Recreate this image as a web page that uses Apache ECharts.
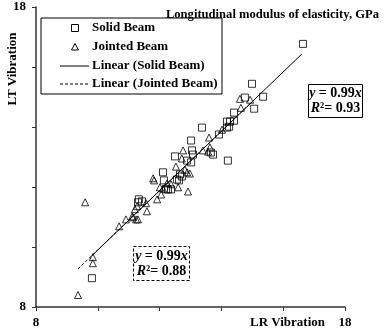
<!DOCTYPE html>
<html>
<head>
<meta charset="utf-8">
<script src="https://cdn.jsdelivr.net/npm/echarts@6/dist/echarts.min.js"></script>
<style>html,body{margin:0;padding:0;background:#fff}#c{width:387px;height:329px}</style>
</head>
<body>
<div id="c"></div>
<script>
// ---- data ----
const solidX = [16.64,14.99,15.35,14.76,15.06,14.41,14.18,14.28,14.41,13.37,14.18,14.25,13.92,13.02,13.66,13.73,13.05,13.08,12.50,12.89,13.02,14.21,12.11,12.66,12.72,12.14,12.56,12.63,12.21,12.27,12.37,11.33,11.43,11.30,9.81];
const solidY = [16.77,15.44,15.01,14.98,14.61,14.48,14.18,14.18,14.21,13.98,13.98,14.01,13.75,13.55,13.15,13.08,13.22,13.08,13.02,12.88,12.82,12.88,12.49,12.42,12.35,12.22,12.25,12.22,11.92,11.92,11.92,11.59,11.52,11.49,8.96];
const jointX = [14.60,14.93,14.63,14.02,13.60,13.40,13.63,13.57,12.76,12.72,12.53,12.82,12.89,12.98,11.79,11.82,12.24,12.37,12.01,12.11,12.60,12.92,12.05,11.92,9.59,11.56,11.27,11.20,11.59,10.91,11.14,11.24,11.30,11.11,10.69,9.84,9.84,9.36];
const jointY = [14.94,14.91,14.64,13.91,13.65,13.22,13.32,13.18,13.22,12.95,12.68,12.58,12.49,12.45,12.29,12.22,12.12,12.09,11.99,11.95,11.99,11.85,11.75,11.59,11.49,11.46,11.36,11.26,11.19,10.92,10.99,10.92,10.92,11.02,10.69,9.66,9.46,8.40];
const trendSolidX = [9.81, 16.60];
const trendSolidY = [9.71, 16.43];
const trendJointX = [9.36, 14.93];
const trendJointY = [9.27, 14.78];
const seriesNames = ['Solid Beam','Jointed Beam','Linear (Solid Beam)','Linear (Jointed Beam)'];
const axisTicks = [8, 18];
const titleText = 'Longitudinal modulus of elasticity, GPa';
const xName = 'LR Vibration';
const yName = 'LT Vibration';
const eq1 = ['y', ' = 0.99', 'x', 'R', '²= 0.93'];
const eq2 = ['y', ' = 0.99', 'x', 'R', '²= 0.88'];

const zip = (a, b) => a.map((v, i) => [v, b[i]]);
const FONT = '"Liberation Serif", "Times New Roman", serif';
const txt = {fontFamily: FONT, fontWeight: 'bold', fontSize: 13, color: '#000'};

const chart = echarts.init(document.getElementById('c'), null, {renderer: 'canvas'});
const hollow = {color: 'rgba(0,0,0,0)', borderColor: '#000', borderWidth: 1};

function eqBox(x, y, w, h, eq, dashed) {
  return {
    type: 'group', left: x, top: y,
    children: [
      {type: 'rect', shape: {x: 0, y: 0, width: w, height: h},
       style: {fill: '#fff', stroke: '#000', lineWidth: 1, lineDash: dashed ? [3, 2] : null}},
      {type: 'text', x: w / 2, y: h / 2,
       style: {
         text: '{i|' + eq[0] + '}{b|' + eq[1] + '}{i|' + eq[2] + '}\n{i|' + eq[3] + '}{b|' + eq[4] + '}',
         align: 'center', verticalAlign: 'middle',
         rich: {
           i: {fontFamily: FONT, fontWeight: 'bold', fontStyle: 'italic', fontSize: 14, lineHeight: 15, fill: '#000'},
           b: {fontFamily: FONT, fontWeight: 'bold', fontSize: 14, lineHeight: 15, fill: '#000'}
         }
       }}
    ]
  };
}

// legend drawn as graphic (box, icons, real text)
function legendBox() {
  const L = 41, T = 18, W = 181, H = 76;
  const rows = [28, 47, 66, 84];
  const cx = 75;
  const kids = [
    {type: 'rect', shape: {x: L, y: T, width: W, height: H}, style: {fill: '#fff', stroke: '#000', lineWidth: 1}},
    {type: 'rect', shape: {x: cx - 3.5, y: rows[0] - 3.5, width: 7, height: 7}, style: {fill: 'none', stroke: '#000', lineWidth: 1}},
    {type: 'polygon', shape: {points: [[cx, rows[1] - 3.5], [cx + 3.5, rows[1] + 3], [cx - 3.5, rows[1] + 3]]}, style: {fill: 'none', stroke: '#000', lineWidth: 1}},
    {type: 'line', shape: {x1: 60, y1: rows[2], x2: 89, y2: rows[2]}, style: {stroke: '#000', lineWidth: 1}},
    {type: 'line', shape: {x1: 60, y1: rows[3], x2: 89, y2: rows[3]}, style: {stroke: '#000', lineWidth: 1, lineDash: [3, 2]}}
  ];
  seriesNames.forEach((n, i) => {
    kids.push({type: 'text', x: 92, y: rows[i], style: {text: n, fill: '#000', font: 'bold 13px ' + FONT, align: 'left', verticalAlign: 'middle'}});
  });
  return {type: 'group', children: kids, z: 10};
}

chart.setOption({
  animation: false,
  backgroundColor: '#fff',
  title: {text: titleText, right: 3, top: 3, textStyle: Object.assign({}, txt, {fontSize: 12.6})},
  grid: {left: 36, right: 42, top: 7, bottom: 21, containLabel: false},
  xAxis: {
    type: 'value', min: 8, max: 18, interval: 2,
    name: xName, nameLocation: 'end', nameGap: -20,
    nameTextStyle: Object.assign({}, txt, {align: 'right', verticalAlign: 'top', padding: [9, 0, 0, 0]}),
    axisLine: {lineStyle: {color: '#333', width: 1.5}},
    axisTick: {length: 4, lineStyle: {color: '#333'}},
    axisLabel: Object.assign({}, txt, {margin: 9, formatter: v => axisTicks.includes(v) ? String(v) : ''}),
    splitLine: {show: false}
  },
  yAxis: {
    type: 'value', min: 8, max: 18, interval: 2,
    name: yName, nameLocation: 'end', nameGap: -62, nameRotate: 90,
    nameTextStyle: Object.assign({}, txt, {align: 'center', verticalAlign: 'bottom', padding: [0, 0, 17, 0]}),
    axisLine: {show: true, lineStyle: {color: '#333', width: 1.5}},
    axisTick: {show: true, length: 4, lineStyle: {color: '#333'}},
    axisLabel: Object.assign({}, txt, {margin: 10, formatter: v => axisTicks.includes(v) ? String(v) : ''}),
    splitLine: {show: false}
  },
  series: [
    {name: seriesNames[0], type: 'scatter', symbol: 'rect', symbolSize: 7, itemStyle: hollow, data: zip(solidX, solidY), z: 3},
    {name: seriesNames[1], type: 'scatter', symbol: 'triangle', symbolSize: 7, itemStyle: hollow, data: zip(jointX, jointY), z: 3},
    {name: seriesNames[2], type: 'line', symbol: 'none', color: '#000', lineStyle: {color: '#000', width: 1, type: 'solid'}, data: zip(trendSolidX, trendSolidY), z: 2},
    {name: seriesNames[3], type: 'line', symbol: 'none', color: '#000', lineStyle: {color: '#000', width: 1, type: [3, 2]}, data: zip(trendJointX, trendJointY), z: 2}
  ],
  graphic: [
    legendBox(),
    eqBox(308, 84, 54, 33, eq1, false),
    eqBox(133, 246, 56, 34, eq2, true)
  ]
});
</script>
</body>
</html>
